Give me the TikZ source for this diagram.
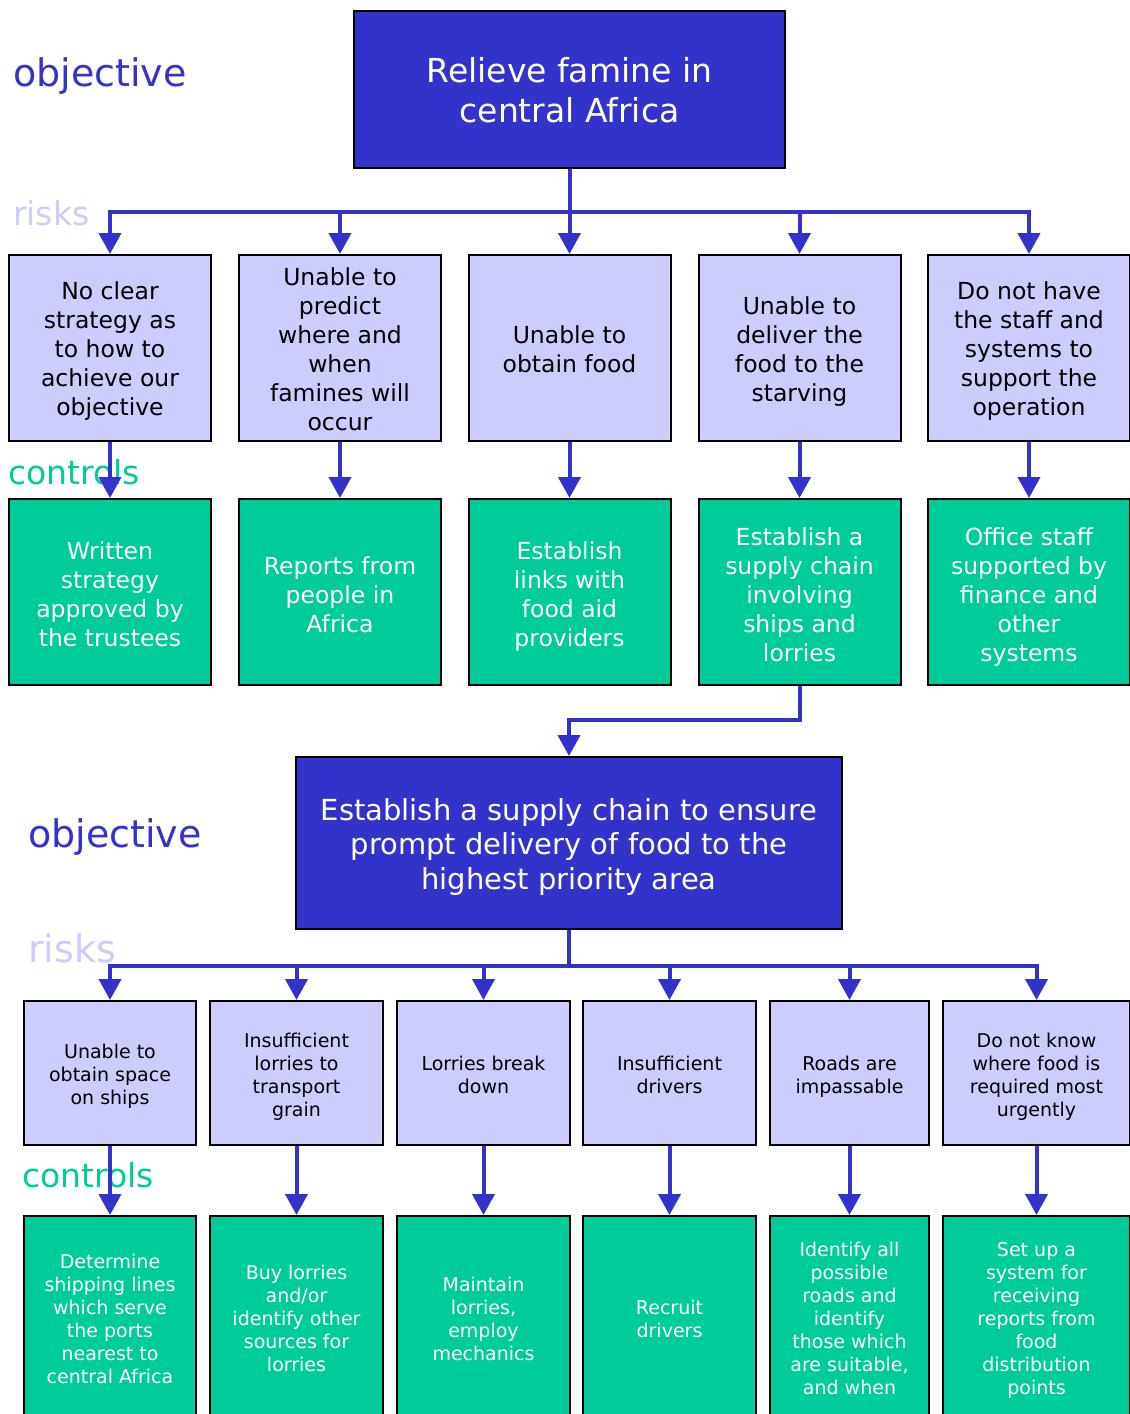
\documentclass[tikz,border=0pt]{standalone}
\usepackage{fontspec}
\setmainfont{DejaVu Sans}
\usetikzlibrary{arrows.meta}
\definecolor{objblue}{HTML}{3333CC}
\definecolor{risklav}{HTML}{CCCCFF}
\definecolor{ctrlgreen}{HTML}{00CC99}
% centred block of lines with #1 pt of empty room added on top
\newcommand\mybt[2]{\raisebox{0pt}[\dimexpr\height+#1pt\relax]{\begin{tabular}{@{}c@{}}#2\end{tabular}}}
\tikzset{
  box/.style={draw=black, line width=2pt, rectangle, inner sep=0pt},
  objbox/.style={box, fill=objblue, text=white},
  riskbox/.style={box, fill=risklav, text=black},
  ctrlbox/.style={box, fill=ctrlgreen, text=white},
  conn/.style={draw=objblue, line width=4pt, line join=miter},
  bus/.style={conn, line cap=rect},
  arr/.style={conn, -{Triangle[width=22pt,length=21pt]}},
  lbl/.style={anchor=base west, inner sep=0pt},
  bigtxt/.style={font=\fontsize{33}{40}\selectfont},
  midtxt/.style={font=\fontsize{29}{34.5}\selectfont},
  toptxt/.style={font=\fontsize{23.5}{29}\selectfont},
  lowtxt/.style={font=\fontsize{19}{23}\selectfont},
}
\begin{document}
\begin{tikzpicture}[x=1pt,y=-1pt]
\useasboundingbox (0,0) rectangle (1130,1414);
\clip (0,0) rectangle (1130,1414);
\fill[white] (0,0) rectangle (1130,1414);

% section labels
\node[lbl, text=objblue, font=\fontsize{38}{40}\selectfont] (lobj1) at (13,86) {objective};
\node[lbl, text=risklav, font=\fontsize{33}{40}\selectfont] (lrisk1) at (13,225) {risks};
\node[lbl, text=ctrlgreen, font=\fontsize{33}{40}\selectfont] (lctrl1) at (8,484) {controls};
\node[lbl, text=objblue, font=\fontsize{38}{40}\selectfont] (lobj2) at (28,847) {objective};
\node[lbl, text=risklav, font=\fontsize{38}{40}\selectfont] (lrisk2) at (28,962) {risks};
\node[lbl, text=ctrlgreen, font=\fontsize{33}{40}\selectfont] (lctrl2) at (22,1187) {controls};

% first objective
\node[objbox, bigtxt, minimum width=431pt, minimum height=157pt] (obj1) at (569.5,89.5)
  {\mybt{10}{Relieve famine in\\central Africa}};

% first row of risks
\foreach \n/\x/\t in {
  r1/110/{No clear\\strategy as\\to how to\\achieve our\\objective},
  r2/340/{Unable to\\predict\\where and\\when\\famines will\\occur},
  r3/569.5/{Unable to\\obtain food},
  r4/799.5/{Unable to\\deliver the\\food to the\\starving},
  r5/1029/{Do not have\\the staff and\\systems to\\support the\\operation}}
  \node[riskbox, toptxt, minimum width=202pt, minimum height=186pt] (\n) at (\x,348) {\mybt{8}{\t}};

% first row of controls
\foreach \n/\x/\t in {
  c1/110/{Written\\strategy\\approved by\\the trustees},
  c2/340/{Reports from\\people in\\Africa},
  c3/569.5/{Establish\\links with\\food aid\\providers},
  c4/799.5/{Establish a\\supply chain\\involving\\ships and\\lorries},
  c5/1029/{Office staff\\supported by\\finance and\\other\\systems}}
  \node[ctrlbox, toptxt, minimum width=202pt, minimum height=186pt] (\n) at (\x,592) {\mybt{11}{\t}};

% second objective
\node[objbox, midtxt, minimum width=546pt, minimum height=172pt] (obj2) at (569,843)
  {\mybt{10}{Establish a supply chain to ensure\\prompt delivery of food to the\\highest priority area}};

% second row of risks
\node[riskbox, lowtxt, minimum width=172pt, minimum height=144pt] (s1) at (110,1073) {\mybt{8}{Unable to\\obtain space\\on ships}};
\node[riskbox, lowtxt, minimum width=173pt, minimum height=144pt] (s2) at (296.5,1073) {\mybt{8}{Insufficient\\lorries to\\transport\\grain}};
\node[riskbox, lowtxt, minimum width=173pt, minimum height=144pt] (s3) at (483.5,1073) {\mybt{8}{Lorries break\\down}};
\node[riskbox, lowtxt, minimum width=173pt, minimum height=144pt] (s4) at (669.5,1073) {\mybt{8}{Insufficient\\drivers}};
\node[riskbox, lowtxt, minimum width=159pt, minimum height=144pt] (s5) at (849.5,1073) {\mybt{8}{Roads are\\impassable}};
\node[riskbox, lowtxt, minimum width=187pt, minimum height=144pt] (s6) at (1036.5,1073) {\mybt{8}{Do not know\\where food is\\required most\\urgently}};

% second row of controls
\node[ctrlbox, lowtxt, minimum width=172pt, minimum height=204pt] (d1) at (110,1318) {\mybt{6}{Determine\\shipping lines\\which serve\\the ports\\nearest to\\central Africa}};
\node[ctrlbox, lowtxt, minimum width=173pt, minimum height=204pt] (d2) at (296.5,1318) {\mybt{6}{Buy lorries\\and/or\\identify other\\sources for\\lorries}};
\node[ctrlbox, lowtxt, minimum width=173pt, minimum height=204pt] (d3) at (483.5,1318) {\mybt{6}{Maintain\\lorries,\\employ\\mechanics}};
\node[ctrlbox, lowtxt, minimum width=173pt, minimum height=204pt] (d4) at (669.5,1318) {\mybt{6}{Recruit\\drivers}};
\node[ctrlbox, lowtxt, minimum width=159pt, minimum height=204pt] (d5) at (849.5,1318) {\mybt{6}{Identify all\\possible\\roads and\\identify\\those which\\are suitable,\\and when}};
\node[ctrlbox, lowtxt, minimum width=187pt, minimum height=204pt] (d6) at (1036.5,1318) {\mybt{6}{Set up a\\system for\\receiving\\reports from\\food\\distribution\\points}};

% connectors: first tree
\coordinate (bus1) at (569.5,212);
\draw[conn] (obj1.south) -- (bus1);
\draw[bus] (r1.north |- bus1) -- (r5.north |- bus1);
\foreach \n in {r1,r2,r3,r4,r5}
  \draw[arr] (\n.north |- bus1) -- (\n.north);
\foreach \a/\b in {r1/c1,r2/c2,r3/c3,r4/c4,r5/c5}
  \draw[arr] (\a.south) -- (\b.north);

% link from the supply chain control to the second objective
\coordinate (elbow) at (569,720);
\draw[arr] (c4.south) |- (elbow) -- (obj2.north);

% connectors: second tree
\coordinate (bus2) at (569,966);
\draw[conn] (obj2.south) -- (bus2);
\draw[bus] (s1.north |- bus2) -- (s6.north |- bus2);
\foreach \n in {s1,s2,s3,s4,s5,s6}
  \draw[arr] (\n.north |- bus2) -- (\n.north);
\foreach \a/\b in {s1/d1,s2/d2,s3/d3,s4/d4,s5/d5,s6/d6}
  \draw[arr] (\a.south) -- (\b.north);
\end{tikzpicture}
\end{document}
